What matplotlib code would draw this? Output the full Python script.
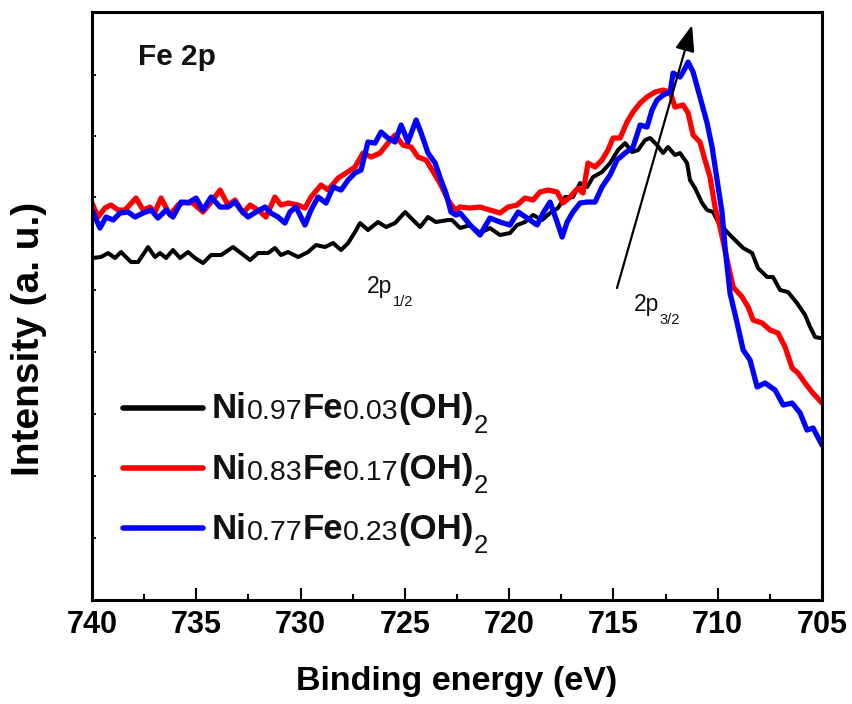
import numpy as np
import matplotlib
matplotlib.use("Agg")
import matplotlib.pyplot as plt
from matplotlib import font_manager
from matplotlib.ticker import MultipleLocator

_names = {f.name for f in font_manager.fontManager.ttflist}
NARROW = "Liberation Sans Narrow" if "Liberation Sans Narrow" in _names else "Liberation Sans"
plt.rcParams["font.family"] = ["Liberation Sans", "DejaVu Sans"]

# Fe 2p spectra, binding energy (eV) vs intensity (a.u.)
e_003 = [740.0, 739.57, 739.23, 738.90, 738.61, 738.13, 737.79, 737.31, 736.98, 736.74,
         736.45, 736.12, 735.78, 735.40, 735.06, 734.68, 734.29, 733.81, 733.24, 732.86,
         732.42, 732.04, 731.56, 731.23, 730.94, 730.60, 730.12, 729.64, 729.26, 728.83,
         728.44, 728.06, 727.72, 727.39, 727.15, 726.77, 726.29, 725.90, 725.47, 724.99,
         724.61, 724.27, 723.89, 723.51, 722.93, 722.74, 722.35, 721.87, 721.40, 720.92,
         720.44, 719.96, 719.62, 719.24, 718.85, 718.42, 718.04, 717.66, 717.32, 716.94,
         716.60, 716.26, 715.98, 715.55, 715.16, 714.78, 714.44, 714.11, 713.82, 713.48,
         713.24, 712.91, 712.62, 712.38, 712.05, 711.81, 711.47, 711.33, 711.09, 710.75,
         710.51, 710.22, 709.98, 709.55, 709.17, 708.78, 708.35, 708.07, 707.63, 707.35,
         707.01, 706.63, 706.20, 705.81, 705.57, 705.33, 705.09, 705.0]
i_003 = [342, 343, 347, 342, 348, 338, 338, 353, 343, 347,
         342, 350, 342, 348, 342, 337, 345, 345, 353, 347,
         340, 347, 347, 352, 345, 348, 343, 348, 355, 353,
         357, 350, 357, 368, 377, 370, 378, 373, 377, 388,
         380, 373, 383, 378, 380, 380, 372, 375, 367, 372,
         365, 367, 375, 378, 385, 380, 387, 392, 403, 403,
         417, 413, 423, 428, 437, 450, 457, 448, 450, 460,
         462, 455, 447, 453, 445, 447, 437, 420, 412, 397,
         390, 388, 378, 368, 360, 352, 347, 332, 323, 323,
         310, 308, 297, 285, 273, 263, 262, 262]

e_017 = [740.0, 739.71, 739.38, 739.09, 738.75, 738.42, 737.89, 737.55, 737.22, 736.98,
         736.69, 736.26, 735.88, 735.54, 735.16, 734.68, 734.29, 733.86, 733.48, 733.14,
         732.76, 732.42, 732.04, 731.66, 731.23, 730.94, 730.60, 730.12, 729.79, 729.50,
         729.02, 728.68, 728.20, 727.82, 727.39, 727.01, 726.62, 726.19, 725.81, 725.47,
         725.09, 724.70, 724.37, 723.98, 723.55, 723.27, 722.93, 722.59, 722.35, 721.87,
         721.40, 720.92, 720.44, 720.05, 719.62, 719.24, 718.85, 718.52, 718.13, 717.70,
         717.42, 717.08, 716.70, 716.46, 716.22, 715.88, 715.55, 715.26, 715.02, 714.68,
         714.35, 714.06, 713.72, 713.39, 713.00, 712.62, 712.28, 712.05, 711.66, 711.42,
         711.18, 710.85, 710.61, 710.37, 710.13, 709.89, 709.55, 709.26, 708.83, 708.54,
         708.30, 707.87, 707.49, 707.11, 706.77, 706.43, 706.15, 705.81, 705.48, 705.0]
i_017 = [397, 383, 392, 395, 390, 390, 402, 390, 393, 388,
         402, 385, 395, 398, 397, 388, 398, 410, 395, 400,
         387, 395, 390, 383, 403, 395, 397, 395, 392, 403,
         415, 410, 422, 427, 433, 447, 443, 447, 457, 465,
         455, 453, 443, 440, 425, 415, 400, 390, 393, 392,
         393, 390, 387, 393, 395, 402, 400, 408, 410, 408,
         397, 403, 412, 407, 437, 433, 440, 450, 462, 462,
         478, 488, 497, 503, 508, 510, 508, 493, 495, 487,
         465, 458, 440, 423, 393, 373, 340, 313, 303, 293,
         280, 277, 270, 267, 253, 232, 227, 217, 208, 197]

e_023 = [740.0, 739.62, 739.33, 738.99, 738.66, 738.27, 737.94, 737.55, 737.17, 736.84,
         736.45, 736.12, 735.73, 735.40, 735.01, 734.68, 734.29, 733.86, 733.48, 733.14,
         732.86, 732.52, 732.14, 731.70, 731.42, 731.08, 730.75, 730.51, 730.22, 729.79,
         729.50, 729.16, 728.78, 728.44, 728.06, 727.72, 727.39, 727.10, 726.77, 726.43,
         726.14, 725.81, 725.47, 725.18, 724.85, 724.46, 724.22, 723.89, 723.55, 723.27,
         723.03, 722.79, 722.55, 722.35, 721.87, 721.40, 720.92, 720.44, 719.96, 719.57,
         719.14, 718.66, 718.37, 718.04, 717.70, 717.46, 717.22, 716.94, 716.60, 716.26,
         715.88, 715.55, 715.16, 714.83, 714.44, 714.06, 713.72, 713.39, 713.15, 712.91,
         712.62, 712.28, 712.14, 711.81, 711.66, 711.42, 711.18, 710.85, 710.51, 710.27,
         710.03, 709.79, 709.65, 709.41, 709.07, 708.78, 708.45, 708.11, 707.73, 707.25,
         706.86, 706.43, 706.05, 705.72, 705.43, 705.0]
i_023 = [390, 372, 383, 380, 387, 388, 383, 387, 390, 382,
         390, 383, 398, 397, 402, 390, 403, 393, 393, 398,
         390, 383, 388, 393, 387, 383, 377, 388, 393, 375,
         390, 403, 397, 413, 410, 420, 427, 430, 458, 457,
         468, 462, 458, 475, 458, 480, 467, 447, 437, 420,
         407, 388, 385, 387, 375, 365, 382, 378, 375, 388,
         382, 375, 387, 398, 378, 363, 378, 388, 397, 398,
         398, 413, 425, 440, 447, 453, 475, 473, 490, 500,
         505, 508, 527, 523, 528, 538, 528, 503, 477, 453,
         420, 387, 353, 307, 277, 250, 240, 213, 217, 210,
         195, 197, 187, 170, 172, 155]

series = [
    (e_003, i_003, "black", 2.9, ["Ni", "0.97", "Fe", "0.03", "(OH)", "2"]),
    (e_017, i_017, "#ff0000", 3.8, ["Ni", "0.83", "Fe", "0.17", "(OH)", "2"]),
    (e_023, i_023, "#0000ff", 3.8, ["Ni", "0.77", "Fe", "0.23", "(OH)", "2"]),
]


def chain_text(ax, x, y, parts, transform):
    """Write text pieces one after another; parts = (text, size, weight, dy_pt)."""
    s, size, weight, _ = parts[0]
    prev = ax.text(x, y, s, transform=transform, fontsize=size, fontweight=weight,
                   ha="left", va="bottom", color="#111111")
    for s, size, weight, dy in parts[1:]:
        prev = ax.annotate(s, xy=(1, 0), xycoords=prev, xytext=(0, dy),
                           textcoords="offset points", ha="left", va="bottom",
                           fontsize=size, fontweight=weight, color="#111111")
    return prev


fig = plt.figure(figsize=(8.52, 7.04), dpi=100)
ax = fig.add_axes([0.108, 0.1477, 0.8568, 0.8352])

for e, inten, color, lw, _ in series:
    ax.plot(e, inten, color=color, lw=lw, solid_joinstyle="round", solid_capstyle="round")

ax.set_xlim(740, 705)
ax.set_ylim(0, 588)

ax.xaxis.set_major_locator(MultipleLocator(5))
ax.xaxis.set_minor_locator(MultipleLocator(2.5))
ax.tick_params(axis="x", which="major", direction="in", length=9, width=1.5, pad=7,
               labelsize=22, top=False)
ax.tick_params(axis="x", which="minor", direction="in", length=4.5, width=1.5, top=False)
ax.set_yticks([62, 124, 186, 248, 310, 342, 403, 464, 525])
ax.tick_params(axis="y", direction="in", length=3, width=1.3, labelleft=False, right=False)
for lab in ax.get_xticklabels():
    lab.set_fontfamily(NARROW)
    lab.set_fontweight("bold")
for sp in ax.spines.values():
    sp.set_linewidth(2.2)

ax.set_xlabel("Binding energy (eV)", fontsize=24.5, fontweight="bold", family=NARROW)
ax.xaxis.set_label_coords(0.5, -0.112)
ax.set_ylabel("Intensity (a. u.)", fontsize=28, fontweight="bold")
ax.yaxis.set_label_coords(-0.062, 0.444)

ax.text(0.063, 0.910, "Fe 2p", transform=ax.transAxes, fontsize=21.5, fontweight="bold",
        va="baseline", color="#111111")

# peak labels and shift arrow
chain_text(ax, 726.8, 302, [("2p", 16.5, "normal", 0), ("1/2", 10.5, "normal", -8)], ax.transData)
chain_text(ax, 714.0, 284, [("2p", 16.5, "normal", 0), ("3/2", 10.5, "normal", -8)], ax.transData)
ax.annotate("", xy=(711.23, 575), xytext=(714.83, 312),
            arrowprops=dict(arrowstyle="-|>,head_length=0.8,head_width=0.3", lw=1.6,
                            color="black", shrinkA=0, shrinkB=0, mutation_scale=20))

# legend
leg_y = [0.327, 0.224, 0.122]
for (e, inten, color, lw, lab), yl in zip(series, leg_y):
    ax.plot([0.042, 0.152], [yl, yl], transform=ax.transAxes, color=color, lw=4,
            solid_capstyle="round", clip_on=False)
    parts = [(lab[0], 25, "bold", 0), (lab[1], 20.5, "normal", 0), (lab[2], 25, "bold", 0),
             (lab[3], 20.5, "normal", 0), (lab[4], 25, "bold", 0), (lab[5], 18.5, "normal", -9)]
    chain_text(ax, 0.164, yl - 0.030, parts, ax.transAxes)

fig.savefig("out.png", dpi=100)
